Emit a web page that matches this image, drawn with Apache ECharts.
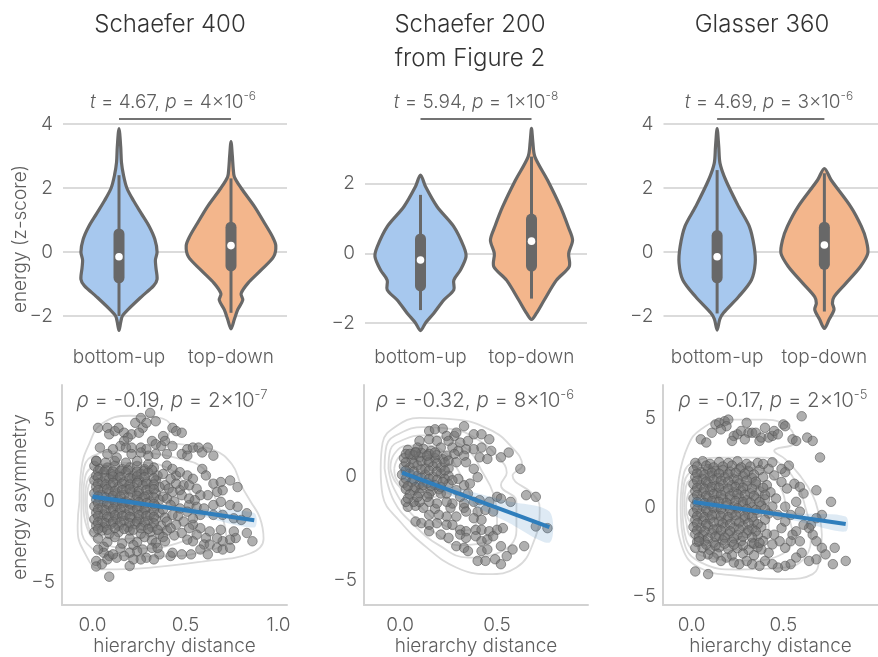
<!DOCTYPE html>
<html><head><meta charset="utf-8">
<script src="https://cdn.jsdelivr.net/npm/echarts@6/dist/echarts.min.js"></script>
<style>html,body{margin:0;padding:0;background:#fff}#c{width:878px;height:657px}</style>
</head><body><div id="c"></div>
<script>
// ---------- categories and labels ----------
const groups = ['bottom-up', 'top-down'];
const titles = ['Schaefer 400', 'Schaefer 200', 'Glasser 360'];
const subtitle2 = 'from Figure 2';

// paired t-tests (top row) and Spearman correlations (bottom row)
const tValues = ['4.67', '5.94', '4.69'];
const tPMant = ['4', '1', '3'];
const tPExp = ['-6', '-8', '-6'];
const rhoValues = ['-0.19', '-0.32', '-0.17'];
const rhoPMant = ['2', '8', '2'];
const rhoPExp = ['-7', '-6', '-5'];

// tick values
const violinTicks = [[-2, 0, 2, 4], [-2, 0, 2], [-2, 0, 2, 4]];
const scatterXTicks = [[0, 0.5, 1.0], [0, 0.5], [0, 0.5]];
const scatterYTicks = [[-5, 0, 5], [-5, 0], [-5, 0, 5]];

// ---------- violin outlines: [energy z-score, half width as fraction of band] ----------
const violinS400BU = [[3.86,0],[3.3,0.015],[2.8,0.022],[2.4,0.04],[2.0,0.07],[1.6,0.13],[1.2,0.2],[0.8,0.27],[0.4,0.32],[0.0,0.34],[-0.25,0.325],[-0.5,0.33],[-0.85,0.34],[-1.05,0.31],[-1.4,0.2],[-1.8,0.08],[-2.0,0.03],[-2.2,0.015],[-2.45,0]];
const violinS400TD = [[3.45,0],[3.0,0.012],[2.6,0.02],[2.35,0.03],[2.0,0.09],[1.42,0.21],[0.9,0.3],[0.48,0.37],[0.2,0.4],[-0.15,0.38],[-0.56,0.27],[-0.98,0.15],[-1.3,0.09],[-1.5,0.105],[-1.8,0.06],[-2.1,0.03],[-2.4,0]];
const violinS200BU = [[2.25,0],[1.92,0.045],[1.34,0.15],[0.77,0.3],[0.19,0.39],[-0.1,0.41],[-0.48,0.36],[-0.77,0.3],[-1.05,0.3],[-1.34,0.21],[-1.72,0.12],[-2.0,0.045],[-2.22,0]];
const violinS200TD = [[3.59,0],[3.2,0.012],[2.78,0.03],[2.1,0.145],[1.34,0.26],[0.77,0.33],[0.38,0.37],[0.0,0.335],[-0.38,0.34],[-0.77,0.225],[-1.34,0.115],[-1.72,0.045],[-1.9,0]];
const violinG360BU = [[3.86,0],[3.3,0.015],[2.77,0.027],[2.25,0.08],[1.42,0.2],[0.8,0.3],[0.17,0.345],[-0.35,0.355],[-0.875,0.32],[-1.4,0.2],[-1.9,0.06],[-2.1,0.025],[-2.44,0]];
const violinG360TD = [[2.61,0],[2.25,0.063],[1.42,0.245],[0.8,0.345],[0.375,0.39],[-0.04,0.405],[-0.46,0.335],[-0.98,0.2],[-1.4,0.09],[-1.6,0.075],[-1.8,0.09],[-2.1,0.045],[-2.39,0]];

// box summaries: [whisker low, q1, median, q3, whisker high]
const boxS400BU = [-2.0, -0.93, -0.15, 0.69, 2.4];
const boxS400TD = [-1.9, -0.56, 0.2, 0.9, 2.3];
const boxS200BU = [-1.63, -1.05, -0.19, 0.53, 1.68];
const boxS200TD = [-1.3, -0.48, 0.35, 1.1, 2.78];
const boxG360BU = [-1.92, -0.93, -0.15, 0.64, 2.56];
const boxG360TD = [-1.86, -0.51, 0.22, 0.9, 2.46];

// height of the significance bracket
const bracketLevel = [4.16, 3.86, 4.16];

// ---------- scatter: [hierarchy distance, energy asymmetry] ----------
const s400Points = [
[0.01,2.2],[0.04,2.0],[0.08,2.1],[0.12,2.2],[0.16,2.0],[0.2,2.1],[0.24,2.2],[0.28,2.0],[0.33,2.1],
[0.02,1.6],[0.06,1.8],[0.1,1.7],[0.14,1.6],[0.18,1.8],[0.22,1.6],[0.26,1.7],[0.3,1.8],[0.35,1.6],
[0.01,1.3],[0.05,1.2],[0.09,1.4],[0.13,1.3],[0.17,1.2],[0.21,1.4],[0.25,1.3],[0.29,1.2],[0.34,1.3],
[0.02,0.9],[0.06,0.8],[0.1,1.0],[0.14,0.9],[0.18,0.8],[0.22,0.9],[0.27,1.0],[0.31,0.8],[0.36,0.9],
[0.01,0.5],[0.05,0.4],[0.09,0.6],[0.13,0.5],[0.17,0.4],[0.21,0.6],[0.25,0.5],[0.3,0.4],[0.34,0.5],
[0.02,0.1],[0.06,0.0],[0.1,0.2],[0.14,0.1],[0.18,0.0],[0.23,0.1],[0.27,0.2],[0.31,0.0],[0.36,0.1],
[0.01,-0.3],[0.05,-0.4],[0.09,-0.2],[0.13,-0.3],[0.17,-0.4],[0.21,-0.2],[0.25,-0.3],[0.29,-0.4],[0.34,-0.3],
[0.02,-0.7],[0.06,-0.8],[0.1,-0.6],[0.14,-0.7],[0.18,-0.8],[0.22,-0.6],[0.27,-0.7],[0.31,-0.8],[0.36,-0.7],
[0.01,-1.1],[0.05,-1.2],[0.09,-1.0],[0.13,-1.1],[0.17,-1.2],[0.21,-1.0],[0.25,-1.1],[0.3,-1.2],[0.34,-1.1],
[0.02,-1.5],[0.06,-1.6],[0.1,-1.4],[0.14,-1.5],[0.19,-1.6],[0.23,-1.4],[0.27,-1.5],[0.32,-1.6],[0.37,-1.5],
[0.01,-1.9],[0.05,-1.8],[0.09,-2.0],[0.14,-1.9],[0.2,-1.8],[0.26,-2.0],[0.31,-1.9],[0.36,-2.0],[0.4,-1.8],
[0.03,1.9],[0.07,1.95],[0.11,1.85],[0.15,1.9],[0.19,1.95],[0.24,1.85],[0.28,1.9],[0.32,1.95],
[0.03,1.5],[0.07,1.45],[0.11,1.55],[0.15,1.5],[0.2,1.45],[0.24,1.55],[0.28,1.5],[0.33,1.45],
[0.03,1.1],[0.07,1.05],[0.11,1.15],[0.16,1.1],[0.2,1.05],[0.24,1.15],[0.29,1.1],[0.33,1.05],
[0.03,0.7],[0.08,0.75],[0.12,0.65],[0.16,0.7],[0.2,0.75],[0.25,0.65],[0.29,0.7],[0.33,0.75],
[0.03,0.3],[0.07,0.25],[0.11,0.35],[0.15,0.3],[0.2,0.25],[0.24,0.35],[0.28,0.3],[0.33,0.25],
[0.03,-0.1],[0.08,-0.15],[0.12,-0.05],[0.16,-0.1],[0.2,-0.15],[0.25,-0.05],[0.29,-0.1],[0.33,-0.15],
[0.03,-0.5],[0.07,-0.55],[0.11,-0.45],[0.15,-0.5],[0.2,-0.55],[0.24,-0.45],[0.28,-0.5],[0.33,-0.55],
[0.03,-0.9],[0.08,-0.95],[0.12,-0.85],[0.16,-0.9],[0.2,-0.95],[0.25,-0.85],[0.29,-0.9],[0.33,-0.95],
[0.03,-1.3],[0.07,-1.35],[0.11,-1.25],[0.15,-1.3],[0.2,-1.35],[0.24,-1.25],[0.28,-1.3],[0.33,-1.35],
[0.03,-1.7],[0.08,-1.75],[0.12,-1.65],[0.17,-1.7],[0.22,-1.75],[0.26,-1.65],[0.3,-1.7],[0.35,-1.75],
[0.02,2.5],[0.07,2.4],[0.12,2.5],[0.18,2.4],[0.24,2.5],[0.3,2.3],
[0.38,1.7],[0.39,1.0],[0.38,0.3],[0.38,-0.5],[0.39,-1.0],[0.41,0.8],[0.44,0.0],[0.46,-0.9],[0.45,1.6],[0.47,0.7],
[0.03,-2.3],[0.08,-2.5],[0.12,-2.2],[0.16,-2.6],[0.2,-2.3],[0.24,-2.5],[0.28,-2.2],[0.32,-2.4],[0.38,-2.2],[0.44,-2.1],[0.06,-2.8],[0.15,-2.9],[0.22,-2.7],
[0.03,4.55],[0.08,4.55],[0.09,4.15],[0.12,4.35],[0.14,4.55],[0.17,4.25],[0.19,3.95],[0.21,4.15],[0.23,4.86],[0.26,5.16],[0.27,4.55],[0.29,4.86],[0.31,5.47],[0.34,4.96],[0.25,4.25],[0.17,3.74],
[0.15,3.43],[0.11,3.23],[0.04,3.33],[0.18,3.33],[0.21,3.33],[0.26,3.33],[0.29,3.23],[0.32,3.74],[0.34,3.54],[0.37,3.43],[0.38,4.04],[0.39,3.74],[0.43,4.55],[0.45,4.35],[0.43,3.43],[0.48,4.25],
[0.48,2.93],[0.51,3.23],[0.54,3.33],[0.57,3.33],[0.59,3.03],[0.62,3.33],[0.65,2.83],[0.51,2.83],[0.4,2.93],[0.34,2.93],[0.3,2.83],[0.26,3.03],[0.21,2.93],[0.13,2.72],[0.08,2.93],[0.02,2.52],
[0.59,2.01],[0.61,1.61],[0.65,1.1],[0.69,1.2],[0.74,1.3],[0.78,0.89],[0.67,0.59],[0.7,0.69],[0.62,0.39],[0.58,0.39],[0.65,-0.22],[0.69,-0.02],[0.74,-0.22],[0.78,-0.33],[0.83,-0.73],[0.52,-0.22],
[0.56,-0.33],[0.6,-0.43],[0.58,-0.83],[0.65,-0.83],[0.7,-0.83],[0.76,-1.04],[0.8,-1.14],[0.83,-1.95],[0.86,-2.46],[0.77,-2.26],[0.74,-2.36],[0.7,-2.46],[0.67,-2.26],[0.63,-1.85],[0.58,-1.65],[0.54,-1.44],[0.69,-1.75],[0.76,-1.85],
[0.4,2.22],[0.43,2.01],[0.47,1.81],[0.51,1.61],[0.54,1.4],[0.42,1.4],[0.45,1.1],[0.49,1.0],[0.52,1.0],[0.56,0.79],[0.43,0.59],[0.48,0.39],[0.52,0.18],[0.4,0.18],[0.55,0.08],[0.42,-0.22],
[0.47,-0.43],[0.51,-0.63],[0.43,-0.83],[0.54,-1.04],[0.4,-1.24],[0.49,-1.24],[0.45,-1.44],[0.52,-1.65],[0.42,-1.65],[0.48,-1.95],[0.56,-2.05],[0.61,-2.26],[0.6,-2.66],[0.54,-2.46],[0.51,-2.36],[0.58,-2.97],
[0.63,-2.66],[0.67,-2.87],[0.7,-2.97],[0.74,-2.87],[0.62,-3.27],[0.53,-3.27],[0.48,-3.27],[0.42,-3.37],[0.36,-3.27],[0.43,-3.17],[0.39,-2.46],[0.34,-2.56],[0.32,-2.87],[0.27,-2.97],[0.24,-3.07],[0.2,-3.17],
[0.17,-3.37],[0.13,-3.48],[0.09,-3.37],[0.06,-3.17],[0.03,-2.97],[0.02,-3.68],[0.05,-3.88],[0.08,-3.58],[0.11,-3.27],[0.2,-3.99],[0.29,-3.48],[0.33,-3.58],[0.26,-3.58],[0.22,-3.58],[0.35,-2.87],
[0.02,-4.02],[0.09,-4.65]
];
const s200Points = [
[0.04,1.3],[0.08,1.2],[0.12,1.35],[0.16,1.25],
[0.02,0.9],[0.06,0.85],[0.1,0.95],[0.14,0.8],[0.18,0.9],[0.22,0.85],
[0.02,0.5],[0.05,0.45],[0.09,0.55],[0.13,0.4],[0.17,0.5],[0.21,0.45],[0.25,0.4],
[0.01,0.1],[0.05,0.15],[0.09,0.05],[0.13,0.1],[0.17,0.0],[0.21,0.15],[0.25,0.05],
[0.02,-0.3],[0.06,-0.25],[0.1,-0.35],[0.14,-0.3],[0.18,-0.4],[0.25,-0.35],
[0.03,-0.6],[0.07,-0.65],[0.11,-0.55],[0.16,-0.7],[0.2,-0.6],
[0.03,1.1],[0.07,1.05],[0.11,1.15],[0.15,1.1],[0.19,1.05],
[0.03,0.7],[0.07,0.65],[0.11,0.75],[0.15,0.7],[0.19,0.65],[0.23,0.7],
[0.03,0.3],[0.07,0.25],[0.11,0.35],[0.15,0.3],[0.19,0.25],[0.23,0.3],
[0.03,-0.1],[0.07,-0.15],[0.11,-0.05],[0.15,-0.1],[0.19,-0.15],[0.23,-0.1],
[0.04,-0.45],[0.08,-0.5],[0.12,-0.4],[0.16,-0.45],[0.21,-0.5],
[0.05,-0.85],[0.1,-0.8],[0.15,-0.85],
[0.04,-1.45],[0.08,-1.4],[0.12,-1.5],[0.18,-1.55],[0.26,-1.5],[0.33,-1.5],
[0.15,2.21],[0.18,2.29],[0.22,2.32],[0.33,2.44],[0.24,1.97],[0.28,1.97],[0.29,2.13],[0.38,2.05],[0.42,2.05],[0.46,1.81],[0.1,1.73],[0.15,1.81],[0.19,1.73],[0.25,1.73],[0.31,1.65],[0.35,1.73],
[0.34,1.33],[0.38,1.33],[0.42,1.41],[0.47,1.25],[0.52,0.94],[0.56,1.17],[0.09,1.41],[0.21,1.41],[0.27,1.41],[0.3,1.25],[0.05,1.1],[0.08,1.17],[0.14,1.02],[0.18,1.17],[0.24,1.02],[0.28,1.1],
[0.33,1.02],[0.41,0.94],[0.45,0.86],[0.25,0.78],[0.29,0.7],[0.34,0.7],[0.38,0.38],[0.4,-0.02],[0.62,0.38],[0.65,-0.89],[0.7,-0.97],[0.57,-1.21],[0.5,-0.97],[0.52,-1.05],[0.46,-1.21],[0.41,-1.13],
[0.38,-1.21],[0.33,-1.29],[0.27,-1.29],[0.24,-1.21],[0.19,-1.29],[0.15,-1.21],[0.1,-1.21],[0.07,-1.21],[0.03,-1.21],[0.04,-1.05],[0.09,-0.97],[0.14,-0.97],[0.21,-0.81],[0.24,-0.81],[0.31,-0.97],[0.35,-0.81],
[0.36,-0.33],[0.33,-0.41],[0.3,-0.1],[0.27,-0.17],[0.22,-0.25],[0.29,-0.65],[0.34,-1.68],[0.4,-1.68],[0.44,-1.6],[0.48,-1.68],[0.38,-2.0],[0.42,-2.08],[0.29,-1.92],[0.24,-1.92],[0.2,-1.84],[0.15,-1.84],
[0.08,-2.16],[0.11,-2.24],[0.15,-2.32],[0.19,-2.24],[0.24,-2.32],[0.27,-2.32],[0.31,-2.56],[0.34,-2.63],[0.39,-2.56],[0.42,-2.56],[0.46,-2.63],[0.5,-2.56],[0.53,-2.48],[0.31,-2.79],[0.34,-2.95],[0.39,-2.87],
[0.42,-3.11],[0.45,-3.03],[0.48,-2.87],[0.15,-2.63],[0.21,-2.79],[0.25,-2.95],[0.29,-3.35],[0.33,-3.43],[0.35,-3.59],[0.42,-3.59],[0.45,-3.51],[0.52,-3.35],[0.58,-3.51],[0.55,-3.83],[0.49,-3.98],[0.52,-4.22],
[0.4,-4.06],[0.44,-4.06],[0.64,-3.35],[0.7,-2.4],[0.76,-2.48]
];
const g360Points = [
[0.02,2.5],[0.06,2.6],[0.1,2.45],[0.15,2.55],[0.2,2.5],[0.25,2.6],[0.3,2.45],[0.36,2.5],
[0.01,2.1],[0.05,2.0],[0.09,2.15],[0.13,2.05],[0.17,2.1],[0.21,2.0],[0.26,2.15],[0.31,2.05],[0.37,2.1],
[0.02,1.7],[0.06,1.6],[0.1,1.75],[0.14,1.65],[0.18,1.7],[0.23,1.6],[0.28,1.75],[0.33,1.65],[0.39,1.7],
[0.01,1.3],[0.05,1.25],[0.09,1.35],[0.13,1.2],[0.17,1.3],[0.22,1.25],[0.26,1.35],[0.3,1.2],[0.35,1.3],[0.41,1.25],
[0.02,0.9],[0.06,0.85],[0.1,0.95],[0.14,0.8],[0.18,0.9],[0.23,0.85],[0.27,0.95],[0.32,0.8],[0.37,0.9],[0.43,0.85],
[0.01,0.5],[0.05,0.45],[0.09,0.55],[0.13,0.4],[0.17,0.5],[0.21,0.45],[0.26,0.55],[0.3,0.4],[0.35,0.5],[0.4,0.45],[0.46,0.5],
[0.02,0.1],[0.06,0.05],[0.1,0.15],[0.14,0.0],[0.19,0.1],[0.23,0.05],[0.28,0.15],[0.33,0.0],[0.38,0.1],[0.44,0.05],
[0.01,-0.3],[0.05,-0.35],[0.09,-0.25],[0.13,-0.4],[0.17,-0.3],[0.22,-0.35],[0.26,-0.25],[0.31,-0.4],[0.36,-0.3],[0.42,-0.35],
[0.02,-0.7],[0.06,-0.75],[0.1,-0.65],[0.15,-0.8],[0.19,-0.7],[0.24,-0.75],[0.29,-0.65],[0.34,-0.8],[0.4,-0.7],
[0.01,-1.1],[0.05,-1.15],[0.09,-1.05],[0.14,-1.2],[0.18,-1.1],[0.23,-1.15],[0.28,-1.05],[0.33,-1.2],[0.38,-1.1],
[0.02,-1.5],[0.06,-1.55],[0.11,-1.45],[0.15,-1.6],[0.2,-1.5],[0.25,-1.55],[0.3,-1.45],[0.36,-1.6],[0.41,-1.5],
[0.03,-1.95],[0.07,-1.9],[0.12,-2.0],[0.17,-1.85],[0.22,-1.95],[0.27,-1.9],[0.33,-2.0],[0.39,-1.9],
[0.06,-2.3],[0.1,-2.4],[0.15,-2.25],[0.2,-2.35],[0.25,-2.3],[0.31,-2.4],[0.36,-2.25],
[0.09,-2.65],[0.14,-2.6],[0.22,-2.7],[0.28,-2.6],[0.34,-2.7],
[0.03,2.3],[0.08,2.35],[0.12,2.25],[0.17,2.3],[0.22,2.35],[0.27,2.25],[0.32,2.3],
[0.03,1.9],[0.07,1.85],[0.11,1.95],[0.15,1.9],[0.2,1.85],[0.24,1.95],[0.29,1.9],[0.34,1.85],
[0.03,1.5],[0.08,1.45],[0.12,1.55],[0.16,1.5],[0.2,1.45],[0.25,1.55],[0.3,1.5],[0.35,1.45],
[0.03,1.1],[0.07,1.05],[0.11,1.15],[0.15,1.1],[0.2,1.05],[0.24,1.15],[0.28,1.1],[0.33,1.05],[0.39,1.1],
[0.03,0.7],[0.08,0.65],[0.12,0.75],[0.16,0.7],[0.21,0.65],[0.25,0.75],[0.29,0.7],[0.34,0.65],[0.4,0.7],
[0.03,0.3],[0.07,0.25],[0.11,0.35],[0.15,0.3],[0.19,0.25],[0.24,0.35],[0.28,0.3],[0.32,0.25],[0.37,0.3],
[0.03,-0.1],[0.08,-0.15],[0.12,-0.05],[0.16,-0.1],[0.21,-0.15],[0.25,-0.05],[0.3,-0.1],[0.35,-0.15],[0.4,-0.1],
[0.03,-0.5],[0.07,-0.55],[0.11,-0.45],[0.16,-0.5],[0.2,-0.55],[0.24,-0.45],[0.29,-0.5],[0.33,-0.55],
[0.03,-0.9],[0.08,-0.95],[0.12,-0.85],[0.17,-0.9],[0.21,-0.95],[0.26,-0.85],[0.31,-0.9],[0.36,-0.95],
[0.03,-1.3],[0.07,-1.35],[0.12,-1.25],[0.16,-1.3],[0.21,-1.35],[0.26,-1.25],[0.31,-1.3],[0.35,-1.35],
[0.04,-1.7],[0.09,-1.75],[0.13,-1.65],[0.18,-1.7],[0.23,-1.75],[0.28,-1.65],[0.33,-1.7],
[0.08,-2.1],[0.13,-2.15],[0.18,-2.05],[0.23,-2.1],[0.28,-2.15],[0.34,-2.05],
[0.13,4.67],[0.15,4.76],[0.18,4.85],[0.2,4.94],[0.19,4.57],[0.16,4.39],[0.11,4.2],[0.05,3.83],[0.08,3.65],[0.23,4.02],[0.25,4.11],[0.27,4.3],[0.3,4.76],[0.31,4.2],[0.33,4.2],[0.35,4.2],
[0.37,3.74],[0.38,3.93],[0.4,4.48],[0.42,3.93],[0.44,4.02],[0.45,4.3],[0.47,4.11],[0.5,4.67],[0.51,4.57],[0.55,3.83],[0.57,3.74],[0.6,5.13],[0.63,3.93],[0.66,3.74],[0.7,2.81],[0.22,3.74],[0.29,3.83],
[0.53,2.35],[0.56,1.33],[0.59,1.15],[0.61,0.78],[0.68,0.96],[0.76,0.31],[0.71,-0.43],[0.68,-0.61],[0.65,-0.98],[0.64,-1.17],[0.66,-1.54],[0.68,-1.91],[0.71,-2.28],[0.78,-2.28],[0.73,-2.65],[0.68,-2.93],
[0.64,-3.02],[0.77,-3.2],[0.84,-3.02],[0.6,-2.56],[0.57,-2.83],[0.54,-3.2],[0.51,-3.3],[0.47,-3.39],[0.44,-3.2],[0.4,-3.02],[0.37,-3.3],[0.33,-3.2],[0.3,-3.02],[0.26,-3.2],[0.23,-3.11],[0.19,-2.83],
[0.16,-3.02],[0.12,-2.83],[0.05,-2.74],[0.02,-2.28],[0.04,-1.91],[0.02,-3.61],[0.09,-3.76],[0.51,0.04],[0.54,-0.43],[0.57,0.31],[0.59,-0.24],[0.61,-0.98],[0.57,-1.35],[0.54,-1.91],[0.51,-2.28],[0.59,-1.91],
[0.55,-1.54],[0.49,-1.17],[0.51,-0.8],[0.47,-0.43],[0.45,-1.54],[0.48,-1.91],[0.44,-2.09],[0.42,-2.56],[0.38,-2.37],[0.37,-2.0],[0.52,1.06],[0.49,1.43],[0.45,1.8],[0.51,1.98],[0.42,2.17],[0.39,2.44],
[0.44,2.54],[0.49,2.17]
];

// ---------- density contours around the scatter ----------
const s400Contours = [
[[-0.07,0],[-0.06,2],[-0.02,3.5],[0.05,4.8],[0.2,5.3],[0.35,5.2],[0.42,4.6],[0.4,3.8],[0.5,3.5],[0.65,3.2],[0.75,2.3],[0.8,1],[0.85,0],[0.9,-1],[0.92,-2.3],[0.85,-3.2],[0.6,-3.7],[0.3,-4.1],[0.05,-4.2],[-0.05,-3],[-0.08,-1.5],[-0.07,0]],
[[-0.06,0],[-0.05,1.8],[0,2.8],[0.15,3.1],[0.3,3.0],[0.45,2.7],[0.6,2],[0.65,0.5],[0.7,-1],[0.72,-2.3],[0.6,-3.1],[0.35,-3.4],[0.1,-3.3],[-0.03,-2.6],[-0.06,-1.3],[-0.06,0]],
[[-0.05,0],[-0.04,1.5],[0.05,2.3],[0.25,2.4],[0.4,2.1],[0.5,1],[0.55,-0.5],[0.55,-1.8],[0.45,-2.6],[0.25,-2.9],[0.05,-2.6],[-0.03,-1.6],[-0.05,0]],
[[-0.04,0],[-0.03,1.2],[0.05,1.9],[0.2,2.0],[0.33,1.7],[0.4,0.5],[0.42,-1],[0.35,-2.0],[0.15,-2.3],[0.0,-1.9],[-0.03,-1],[-0.04,0]],
[[-0.03,0],[-0.02,1],[0.05,1.4],[0.18,1.3],[0.25,0.6],[0.27,-0.5],[0.2,-1.4],[0.05,-1.6],[-0.02,-1],[-0.03,0]]
];
const s200Contours = [
[[-0.1,0.38],[-0.09,1.65],[-0.02,2.44],[0.1,2.84],[0.29,2.76],[0.46,2.29],[0.57,1.49],[0.63,0.54],[0.58,0.06],[0.69,-0.89],[0.72,-1.52],[0.69,-3.11],[0.6,-4.38],[0.45,-4.7],[0.29,-4.38],[0.14,-3.43],[0,-2.16],[-0.09,-0.89],[-0.1,0.38]],
[[-0.08,0.4],[-0.07,1.5],[0,2.1],[0.12,2.4],[0.27,2.3],[0.4,1.8],[0.5,1.0],[0.55,0.2],[0.52,-0.4],[0.6,-1.2],[0.6,-2.6],[0.5,-3.7],[0.35,-3.9],[0.2,-3.3],[0.08,-2.4],[-0.03,-1.2],[-0.08,0.4]],
[[-0.06,0.4],[-0.05,1.3],[0.02,1.8],[0.12,2.0],[0.25,1.8],[0.36,1.2],[0.42,0.3],[0.48,-0.8],[0.5,-2.2],[0.42,-3.2],[0.3,-3.3],[0.18,-2.7],[0.06,-1.8],[-0.03,-0.6],[-0.06,0.4]],
[[-0.05,0.4],[-0.03,1.1],[0.04,1.5],[0.14,1.5],[0.24,1.1],[0.3,0.3],[0.36,-0.8],[0.4,-2.0],[0.33,-2.6],[0.2,-2.2],[0.08,-1.2],[-0.02,-0.3],[-0.05,0.4]],
[[-0.03,0.4],[0.0,1.0],[0.08,1.2],[0.16,1.0],[0.2,0.3],[0.22,-0.5],[0.16,-1.0],[0.06,-0.7],[-0.02,-0.1],[-0.03,0.4]]
];
const g360Contours = [
[[-0.07,1.61],[-0.02,3.46],[0.05,4.39],[0.19,4.94],[0.4,4.94],[0.54,4.39],[0.56,3.65],[0.45,3.19],[0.51,2.72],[0.59,1.8],[0.66,0.69],[0.69,-0.24],[0.71,-1.54],[0.7,-2.65],[0.66,-3.76],[0.51,-4.04],[0.24,-3.85],[0.04,-3.39],[-0.05,-2.28],[-0.08,-0.06],[-0.07,1.61]],
[[-0.06,0],[-0.05,1.5],[0.0,2.5],[0.15,2.8],[0.4,2.8],[0.5,2.3],[0.58,1.2],[0.62,0],[0.65,-1.5],[0.62,-2.8],[0.5,-3.4],[0.25,-3.5],[0.05,-3.1],[-0.04,-2],[-0.06,0]],
[[-0.05,0],[-0.04,1.4],[0.02,2.1],[0.2,2.3],[0.38,2.1],[0.48,1.2],[0.52,-0.2],[0.55,-1.6],[0.5,-2.6],[0.3,-3.0],[0.08,-2.8],[-0.03,-1.8],[-0.05,0]],
[[-0.04,0],[-0.03,1.2],[0.05,1.8],[0.2,1.9],[0.33,1.5],[0.4,0.3],[0.42,-1.2],[0.36,-2.2],[0.15,-2.4],[0.0,-1.7],[-0.03,-0.8],[-0.04,0]],
[[-0.03,0],[-0.01,0.9],[0.07,1.3],[0.18,1.1],[0.25,0.3],[0.27,-0.8],[0.18,-1.5],[0.04,-1.3],[-0.02,-0.6],[-0.03,0]]
];

// ---------- regression fits and 95% bands ----------
const s400Fit = [[0.0, 0.3], [0.87, -1.16]];
const s200Fit = [[0.01, 0.2], [0.77, -2.43]];
const g360Fit = [[0.01, 0.3], [0.84, -0.94]];
const s400BandX = [0, 0.2, 0.4, 0.6, 0.87];
const s400BandHi = [0.6, 0.12, -0.25, -0.46, -0.71];
const s400BandLo = [0.0, -0.2, -0.5, -0.96, -1.61];
const s200BandX = [0.01, 0.2, 0.35, 0.55, 0.77];
const s200BandHi = [0.5, -0.26, -0.68, -1.17, -1.68];
const s200BandLo = [-0.1, -0.66, -1.28, -2.17, -3.18];
const g360BandX = [0.01, 0.2, 0.4, 0.6, 0.84];
const g360BandHi = [0.55, 0.12, -0.18, -0.34, -0.52];
const g360BandLo = [0.05, -0.12, -0.42, -0.84, -1.36];

// ---------- styling ----------
const FONT = 'Inter, Roboto, "Liberation Sans", sans-serif';
const TXT = '#5e5e5e';
const EDGE = '#686868';
const FILLS = ['#a7c8ee', '#f3b68c'];

const violins = [[violinS400BU, violinS400TD], [violinS200BU, violinS200TD], [violinG360BU, violinG360TD]];
const boxes = [[boxS400BU, boxS400TD], [boxS200BU, boxS200TD], [boxG360BU, boxG360TD]];
const points = [s400Points, s200Points, g360Points];
const contours = [s400Contours, s200Contours, g360Contours];
const fits = [s400Fit, s200Fit, g360Fit];
const bands = [[s400BandX, s400BandHi, s400BandLo], [s200BandX, s200BandHi, s200BandLo], [g360BandX, g360BandHi, g360BandLo]];

// panel frames (pixels) and axis ranges
const topGrids = [
  {left: 63, top: 117.6, width: 224, height: 217.6, min: -2.6, max: 4.2, margin: 13},
  {left: 365, top: 117.6, width: 222, height: 215.8, min: -2.3, max: 3.9, margin: 14},
  {left: 663.5, top: 117.6, width: 222, height: 217.6, min: -2.6, max: 4.2, margin: 13}
];
const botGrids = [
  {left: 62, top: 385, width: 225, height: 223, xmin: -0.164, xmax: 1.046, ymin: -6.4, ymax: 7.2},
  {left: 364, top: 385, width: 224, height: 223, xmin: -0.186, xmax: 0.969, ymin: -6.19, ymax: 4.43},
  {left: 663, top: 385, width: 225, height: 223, xmin: -0.156, xmax: 1.016, ymin: -5.5, ymax: 6.89}
];

const minus = v => (v < 0 ? '\u2212' + Math.abs(v) : String(v));
const tickFont = {color: TXT, fontSize: 19, fontFamily: FONT, fontWeight: 300};

function violinRenderer(panel) {
  return function (params, api) {
    const i = api.value(0);
    const prof = violins[panel][i];
    const bx = boxes[panel][i];
    const band = api.size([1, 0])[0];
    const right = [], left = [];
    prof.forEach(([v, w]) => {
      const c = api.coord([i, v]);
      right.push([c[0] + w * band, c[1]]);
      if (w > 0) left.unshift([c[0] - w * band, c[1]]);
    });
    const pts = right.concat(left);
    const lo = api.coord([i, bx[0]]), q1 = api.coord([i, bx[1]]), md = api.coord([i, bx[2]]),
          q3 = api.coord([i, bx[3]]), hi = api.coord([i, bx[4]]);
    return {
      type: 'group',
      children: [
        {type: 'polygon', shape: {points: pts, smooth: 0.3}, style: {fill: FILLS[i], stroke: EDGE, lineWidth: 3.2}},
        {type: 'line', shape: {x1: lo[0], y1: lo[1], x2: hi[0], y2: hi[1]}, style: {stroke: EDGE, lineWidth: 3}},
        {type: 'line', shape: {x1: q1[0], y1: q1[1] - 4, x2: q3[0], y2: q3[1] + 4}, style: {stroke: EDGE, lineWidth: 11, lineCap: 'round'}},
        {type: 'circle', shape: {cx: md[0], cy: md[1], r: 3.8}, style: {fill: '#fff'}}
      ]
    };
  };
}

function bandRenderer(panel) {
  return function (params, api) {
    const [bx, bh, bl] = bands[panel];
    const pts = [];
    bx.forEach((x, k) => pts.push(api.coord([x, bh[k]])));
    for (let k = bx.length - 1; k >= 0; k--) pts.push(api.coord([bx[k], bl[k]]));
    return {type: 'polygon', shape: {points: pts, smooth: 0.3}, style: {fill: 'rgba(47,126,188,0.16)'}};
  };
}

const grid = [], xAxis = [], yAxis = [], series = [];

topGrids.forEach((g, p) => {
  grid.push({left: g.left, top: g.top, width: g.width, height: g.height});
  xAxis.push({
    type: 'category', gridIndex: p, data: groups,
    axisLine: {show: false}, axisTick: {show: false}, splitLine: {show: false},
    axisLabel: Object.assign({interval: 0, hideOverlap: false, margin: g.margin}, tickFont)
  });
  yAxis.push({
    type: 'value', gridIndex: p, min: g.min, max: g.max,
    axisLine: {show: false},
    axisTick: {show: false, customValues: violinTicks[p]},
    axisLabel: Object.assign({customValues: violinTicks[p], formatter: minus, margin: 10}, tickFont),
    splitLine: {show: true, lineStyle: {color: '#cfcfcf', width: 1.6}}
  });
  series.push({
    type: 'custom', xAxisIndex: p, yAxisIndex: p,
    data: [[0, 0], [1, 0]], encode: {x: 0, y: 1},
    renderItem: violinRenderer(p), silent: true, z: 3,
    markLine: {
      silent: true, symbol: 'none', label: {show: false},
      lineStyle: {color: '#444', width: 1.6, type: 'solid'},
      data: [[{coord: [groups[0], bracketLevel[p]]}, {coord: [groups[1], bracketLevel[p]]}]]
    }
  });
});

botGrids.forEach((g, p) => {
  const gi = p + 3;
  grid.push({left: g.left, top: g.top, width: g.width, height: g.height});
  xAxis.push({
    type: 'value', gridIndex: gi, min: g.xmin, max: g.xmax,
    axisLine: {show: true, onZero: false, lineStyle: {color: '#d2d2d2', width: 2}},
    axisTick: {show: false, customValues: scatterXTicks[p]},
    axisLabel: Object.assign({customValues: scatterXTicks[p], formatter: v => v.toFixed(1), margin: 11}, tickFont),
    splitLine: {show: false},
    name: 'hierarchy distance', nameLocation: 'middle', nameGap: 32,
    nameTextStyle: {color: TXT, fontSize: 19, fontFamily: FONT, fontWeight: 300}
  });
  yAxis.push({
    type: 'value', gridIndex: gi, min: g.ymin, max: g.ymax,
    axisLine: {show: true, onZero: false, lineStyle: {color: '#d2d2d2', width: 2}},
    axisTick: {show: false, customValues: scatterYTicks[p]},
    axisLabel: Object.assign({customValues: scatterYTicks[p], formatter: minus, margin: 7}, tickFont),
    splitLine: {show: false}
  });
  contours[p].forEach(c => series.push({
    type: 'line', xAxisIndex: gi, yAxisIndex: gi, data: c, smooth: 0.45,
    showSymbol: false, silent: true, z: 1,
    lineStyle: {color: '#dadada', width: 1.8}
  }));
  series.push({
    type: 'scatter', xAxisIndex: gi, yAxisIndex: gi, data: points[p], symbolSize: 9.5, silent: true, z: 2,
    itemStyle: {color: 'rgba(112,112,112,0.7)', borderColor: 'rgba(85,85,85,0.72)', borderWidth: 1}
  });
  series.push({
    type: 'custom', xAxisIndex: gi, yAxisIndex: gi, data: [[0, 0]], encode: {x: 0, y: 1},
    renderItem: bandRenderer(p), silent: true, z: 3
  });
  series.push({
    type: 'line', xAxisIndex: gi, yAxisIndex: gi, data: fits[p], showSymbol: false, silent: true, z: 4,
    lineStyle: {color: '#2f7ebc', width: 4.2}
  });
});

// titles and statistics text
function statRich(size, supSize) {
  return {
    i: {fontStyle: 'italic', fontSize: size, fontFamily: FONT, fontWeight: 300, fill: TXT},
    n: {fontSize: size, fontFamily: FONT, fontWeight: 300, fill: TXT},
    s: {fontSize: supSize, fontFamily: FONT, fontWeight: 300, fill: TXT, verticalAlign: 'top'}
  };
}
const topRich = statRich(19, 12);
const botRich = statRich(20.5, 13);
const topStatX = [173, 476, 769];
const botStatX = [172, 475, 773];
const graphic = [];
const titleStyle = {fontSize: 24, fontFamily: FONT, fontWeight: 300, fill: '#333', align: 'center', verticalAlign: 'middle'};
graphic.push({type: 'text', x: 170, y: 25, style: Object.assign({text: titles[0]}, titleStyle)});
graphic.push({type: 'text', x: 470, y: 25, style: Object.assign({text: titles[1]}, titleStyle)});
graphic.push({type: 'text', x: 470, y: 59, style: Object.assign({text: subtitle2}, titleStyle)});
graphic.push({type: 'text', x: 762, y: 25, style: Object.assign({text: titles[2]}, titleStyle)});
for (let p = 0; p < 3; p++) {
  graphic.push({type: 'text', x: topStatX[p], y: 102, style: {
    text: '{i|t}{n| = ' + tValues[p] + ', }{i|p}{n| = ' + tPMant[p] + '×10}{s|' + tPExp[p] + '}',
    rich: topRich, align: 'center', verticalAlign: 'middle', lineHeight: 24}});
  graphic.push({type: 'text', x: botStatX[p], y: 401, style: {
    text: '{i|ρ}{n| = ' + rhoValues[p] + ', }{i|p}{n| = ' + rhoPMant[p] + '×10}{s|' + rhoPExp[p] + '}',
    rich: botRich, align: 'center', verticalAlign: 'middle', lineHeight: 25}});
}
const axisNameStyle = {fontSize: 19, fontFamily: FONT, fontWeight: 300, fill: TXT, align: 'center', verticalAlign: 'middle'};
graphic.push({type: 'text', x: 20, y: 239, rotation: Math.PI / 2, style: Object.assign({text: 'energy (z-score)'}, axisNameStyle)});
graphic.push({type: 'text', x: 20, y: 497, rotation: Math.PI / 2, style: Object.assign({text: 'energy asymmetry'}, axisNameStyle)});

const chart = echarts.init(document.getElementById('c'), null, {renderer: 'canvas'});
chart.setOption({animation: false, backgroundColor: '#fff', grid, xAxis, yAxis, series, graphic});
</script></body></html>
